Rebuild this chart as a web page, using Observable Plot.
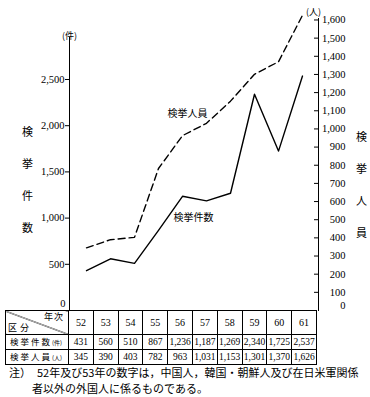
<!DOCTYPE html>
<html><head><meta charset="utf-8">
<script src="https://cdn.jsdelivr.net/npm/d3@7"></script>
<script src="https://cdn.jsdelivr.net/npm/@observablehq/plot@0.6"></script>
<style>
body{margin:0;background:#fff;}
#wrap{position:relative;width:370px;height:397px;overflow:hidden;background:#fff;font-family:"Noto Sans CJK JP",sans-serif;color:#000;}
#chart{position:absolute;left:0;top:0;}
#tbl{position:absolute;left:5px;top:310px;border-collapse:collapse;table-layout:fixed;width:311px;border:1.5px solid #000;}
#tbl td{border:1px solid #000;padding:0;text-align:center;white-space:nowrap;overflow:hidden;font-family:"Liberation Serif",serif;font-size:9.5px;line-height:12px;height:13px;}
#tbl tr.hdr td{height:23px;font-size:10px;}
#tbl td.lab{font-family:"Noto Sans CJK JP",sans-serif;font-size:8.5px;letter-spacing:2px;text-align:left;padding-left:4px;}
#tbl td.lab small{font-size:6px;letter-spacing:0;}
#tbl td.diag{background:linear-gradient(to top right, transparent calc(50% - 0.6px), #000 calc(50% - 0.1px), #000 calc(50% + 0.1px), transparent calc(50% + 0.6px));position:relative;}
.hd{position:relative;height:23px;font-family:"Noto Sans CJK JP",sans-serif;font-size:9px;}
.hd .nj{position:absolute;right:4px;top:0px;letter-spacing:1px;}
.hd .kb{position:absolute;left:2px;bottom:0px;letter-spacing:3px;}
.note{position:absolute;font-size:11px;line-height:14px;white-space:nowrap;}
</style>
</head><body>
<div id="wrap">
  <div id="chart"></div>
  <table id="tbl"></table>
  <div class="note" style="left:9px;top:365px;">注）</div>
  <div class="note" id="note1" style="left:37px;top:365px;"></div>
  <div class="note" id="note2" style="left:32px;top:381px;"></div>
</div>
<script>
const years = ["52","53","54","55","56","57","58","59","60","61"];
const cases = [431,560,510,867,1236,1187,1269,2340,1725,2537];
const persons = [345,390,403,782,963,1031,1153,1301,1370,1626];
const leftTicks = [0,500,1000,1500,2000,2500];
const rightTicks = [0,100,200,300,400,500,600,700,800,900,1000,1100,1200,1300,1400,1500,1600];
const leftUnit = "(件)";
const rightUnit = "(人)";
const leftTitle = "検挙件数";
const rightTitle = "検挙人員";
const seriesCases = "検挙件数";
const seriesPersons = "検挙人員";
const rowLabelCases = "検挙件数";
const rowLabelPersons = "検挙人員";
const headerYear = "年次";
const headerKubun = "区分";
const note1 = "52年及び53年の数字は，中国人，韓国・朝鮮人及び在日米軍関係";
const note2 = "者以外の外国人に係るものである。";

const k = 1.965; // persons -> cases-axis units
const fmt = d3.format(",");
const rows = years.map((y,i)=>({year:y, cases:cases[i], persons:persons[i]}));
const jp = "'Noto Sans CJK JP', sans-serif";
const serif = "'Liberation Serif', 'DejaVu Serif', serif";

const chart = Plot.plot({
  width:370, height:311,
  marginLeft:69, marginRight:52, marginTop:18, marginBottom:1,
  style:{background:"white", color:"black", fontFamily:serif, fontSize:"10.5px"},
  x:{type:"point", domain:years, padding:0.48, axis:null},
  y:{domain:[0,3160], axis:null},
  marks:[
    Plot.frame({anchor:"left", insetTop:19}),
    Plot.frame({anchor:"right"}),
    Plot.axisY(leftTicks.filter(d=>d>0), {anchor:"left", label:null, tickSize:4, tickPadding:1, fontFamily:serif, tickFormat:d=>fmt(d)}),
    Plot.axisY(rightTicks.filter(d=>d>0).map(d=>d*k), {anchor:"right", label:null, tickSize:5, insetRight:5, tickFormat:()=>""}),
    Plot.axisY(rightTicks.filter(d=>d>0).map(d=>d*k), {anchor:"right", label:null, tickSize:0, tickPadding:27, textAnchor:"end", fontFamily:serif, tickFormat:d=>fmt(Math.round(d/k))}),
    Plot.text([leftTicks[0]], {y:d=>d, frameAnchor:"left", dx:-4, dy:-7, textAnchor:"end", fontFamily:serif, text:d=>String(d)}),
    Plot.text([rightTicks[0]], {y:d=>d*k, frameAnchor:"right", dx:27, dy:-5, textAnchor:"end", fontFamily:serif, text:d=>String(d)}),
    Plot.text([leftUnit], {frameAnchor:"top-left", dy:14, text:d=>d, fontFamily:jp, fontSize:9, textAnchor:"middle"}),
    Plot.text([rightUnit], {frameAnchor:"top-right", dx:-5, dy:-10, text:d=>d, fontFamily:jp, fontSize:9, textAnchor:"middle"}),
    Plot.text([leftTitle], {frameAnchor:"left", dx:-42, dy:9.5, text:d=>d.split("").join("\n"), lineHeight:2.9, fontSize:11, fontFamily:jp, textAnchor:"middle"}),
    Plot.text([rightTitle], {frameAnchor:"right", dx:43, dy:14, text:d=>d.split("").join("\n"), lineHeight:2.9, fontSize:11, fontFamily:jp, textAnchor:"middle"}),
    Plot.line(rows, {x:"year", y:"cases", stroke:"black", strokeWidth:1.4}),
    Plot.line(rows, {x:"year", y:d=>d.persons*k, stroke:"black", strokeWidth:1.4, strokeDasharray:"7,4"}),
    Plot.text([rows[4]], {x:"year", y:d=>d.persons*k, text:()=>seriesPersons, dx:5, dy:-22, fontFamily:jp, fontSize:10, textAnchor:"middle"}),
    Plot.text([rows[5]], {x:"year", y:"cases", text:()=>seriesCases, dx:-13, dy:17, fontFamily:jp, fontSize:10, textAnchor:"middle"})
  ]
});
document.getElementById("chart").appendChild(chart);

// table
const tbl = document.getElementById("tbl");
let html = '<colgroup><col style="width:63px">' + years.map(()=>'<col style="width:24.8px">').join("") + '</colgroup>';
html += '<tr class="hdr"><td class="diag"><div class="hd"><span class="nj">'+headerYear+'</span><span class="kb">'+headerKubun+'</span></div></td>' + years.map(y=>'<td>'+y+'</td>').join("") + '</tr>';
html += '<tr><td class="lab">'+rowLabelCases+'<small>'+leftUnit+'</small></td>' + cases.map(v=>'<td>'+fmt(v)+'</td>').join("") + '</tr>';
html += '<tr><td class="lab">'+rowLabelPersons+'<small>'+rightUnit+'</small></td>' + persons.map(v=>'<td>'+fmt(v)+'</td>').join("") + '</tr>';
tbl.innerHTML = html;
document.getElementById("note1").textContent = note1;
document.getElementById("note2").textContent = note2;
</script>
</body></html>
